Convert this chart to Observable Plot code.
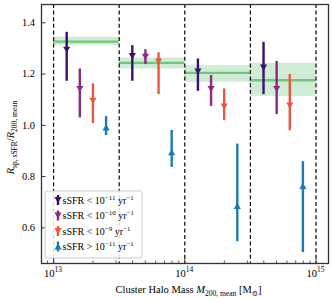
<!DOCTYPE html>
<html>
<head>
<meta charset="utf-8">
<script src="https://cdn.jsdelivr.net/npm/d3@7"></script>
<script src="https://cdn.jsdelivr.net/npm/@observablehq/plot@0.6"></script>
<style>
  body { margin: 0; background: white; }
  #chart { position: relative; width: 332px; height: 300px; }
</style>
</head>
<body>
<div id="chart"></div>
<script>
// ---- data ----
const binEdges = [13, 13.5, 14, 14.5, 15];           // log10 M200,mean bin edges
const medLine = [1.327, 1.244, 1.205, 1.176];          // green reference value per bin
const medLo   = [1.311, 1.220, 1.168, 1.113];
const medHi   = [1.344, 1.263, 1.233, 1.242];

const seriesNames  = ["sSFR < 1e-11", "sSFR < 1e-10", "sSFR < 1e-9", "sSFR > 1e-11"];
const seriesOps    = ["<", "<", "<", ">"];
const seriesExps   = ["\u221211", "\u221210", "\u22129", "\u221211"];
const seriesColors = ["#3b0f70", "#8c2981", "#e8573e", "#1b7bb0"];
const seriesUp     = [false, false, false, true];

// log10 mass positions of each point (per series, per bin)
const xLog = [
  [13.1, 13.6, 14.1, 14.6],
  [13.2, 13.7, 14.2, 14.7],
  [13.3, 13.8, 14.3, 14.8],
  [13.4, 13.9, 14.4, 14.9]
];
const yVal = [
  [1.295, 1.270, 1.210, 1.225],
  [1.142, 1.267, 1.142, 1.142],
  [1.096, 1.249, 1.073, 1.077],
  [0.992, 0.895, 0.686, 0.764]
];
const yLo = [
  [1.172, 1.172, 1.133, 1.120],
  [1.029, 1.237, 1.074, 1.042],
  [1.007, 1.120, 1.018, 0.979],
  [0.960, 0.836, 0.546, 0.504]
];
const yHi = [
  [1.363, 1.311, 1.259, 1.324],
  [1.220, 1.295, 1.194, 1.249],
  [1.162, 1.283, 1.142, 1.198],
  [1.034, 0.980, 0.927, 0.858]
];

const xMajorTicks = [13, 14, 15];
const yTicks = [0.6, 0.8, 1.0, 1.2, 1.4];
const xDomain = [10 ** 12.908, 10 ** 15.095];
const yDomain = [0.461, 1.4715];

// ---- tables ----
const bins = medLine.map((v, i) => ({
  x1: 10 ** binEdges[i], x2: 10 ** binEdges[i + 1], y: v, lo: medLo[i], hi: medHi[i]
}));
const points = [];
seriesNames.forEach((s, si) => {
  xLog[si].forEach((lx, bi) => {
    points.push({series: si, x: 10 ** lx, y: yVal[si][bi], lo: yLo[si][bi], hi: yHi[si][bi],
                 color: seriesColors[si], up: seriesUp[si]});
  });
});
const minorTicks = [];
for (let e = 12; e <= 14; e++) for (let m = 2; m <= 9; m++) {
  const v = m * 10 ** e;
  if (v > xDomain[0] && v < xDomain[1]) minorTicks.push(v);
}

// ---- symbols ----
const triDown = {draw(ctx, size) { const r = Math.sqrt(size / Math.PI);
  ctx.moveTo(-r, -0.85 * r); ctx.lineTo(r, -0.85 * r); ctx.lineTo(0, 0.85 * r); ctx.closePath(); }};
const triUp = {draw(ctx, size) { const r = Math.sqrt(size / Math.PI);
  ctx.moveTo(-r, 0.85 * r); ctx.lineTo(r, 0.85 * r); ctx.lineTo(0, -0.85 * r); ctx.closePath(); }};

const W = 332, H = 300, mL = 41, mR = 4, mT = 4, mB = 37;
const innerH = H - mT - mB, innerW = W - mL - mR;
const FONT = "'Liberation Serif', 'DejaVu Serif', serif";

const plot = Plot.plot({
  width: W, height: H,
  marginLeft: mL, marginRight: mR, marginTop: mT, marginBottom: mB,
  style: {fontFamily: FONT, background: "white", overflow: "visible"},
  x: {type: "log", domain: xDomain, axis: null},
  y: {domain: yDomain, axis: null},
  marks: [
    Plot.rect(bins, {x1: "x1", x2: "x2", y1: "lo", y2: "hi", fill: "#a9dcb3", fillOpacity: 0.55}),
    Plot.ruleY(bins, {y: "y", x1: "x1", x2: "x2", stroke: "#74c382", strokeWidth: 2.3}),
    Plot.ruleX(binEdges, {x: d => 10 ** d, stroke: "black", strokeWidth: 1.2, strokeDasharray: "4,2.6"}),
    Plot.ruleX(points, {x: "x", y1: "lo", y2: "hi", stroke: "color", strokeWidth: 2.4}),
    Plot.dot(points.filter(d => !d.up), {x: "x", y: "y", fill: "color", r: 3.6, symbol: triDown, stroke: "none"}),
    Plot.dot(points.filter(d => d.up), {x: "x", y: "y", fill: "color", r: 3.6, symbol: triUp, stroke: "none"}),
    // inward ticks
    Plot.ruleX(xMajorTicks, {x: d => 10 ** d, stroke: "#333", strokeWidth: 1, insetTop: innerH - 4.5}),
    Plot.ruleX(minorTicks, {x: d => d, stroke: "#333", strokeWidth: 0.8, insetTop: innerH - 2.5}),
    Plot.ruleY(yTicks, {y: d => d, stroke: "#333", strokeWidth: 1, insetRight: innerW - 4.5}),
    Plot.frame({stroke: "#333", strokeWidth: 1.3})
  ]
});
document.getElementById("chart").appendChild(plot);

// ---- text decorations via library scales ----
const svg = d3.select(plot);
const xs = plot.scale("x");
const ys = plot.scale("y");

// y tick labels
yTicks.forEach(v => {
  svg.append("text").attr("x", mL - 6).attr("y", ys.apply(v)).attr("dy", "0.35em")
    .attr("text-anchor", "end").attr("font-family", FONT).attr("font-size", 10.5)
    .attr("fill", "black").text(v.toFixed(1));
});

// x tick labels 10^n
xMajorTicks.forEach(e => {
  const px = xs.apply(10 ** e);
  const t = svg.append("text").attr("x", px).attr("y", H - mB + 13.5).attr("text-anchor", "middle")
    .attr("font-family", FONT).attr("font-size", 10.5).attr("fill", "black");
  t.append("tspan").text("10");
  t.append("tspan").attr("dy", -4.5).attr("font-size", 7.5).text(String(e));
});

// x label
{
  const t = svg.append("text").attr("x", mL + innerW / 2 + 4).attr("y", H - 7).attr("text-anchor", "middle")
    .attr("font-family", FONT).attr("font-size", 10.5).attr("fill", "black");
  t.append("tspan").text("Cluster Halo Mass ");
  t.append("tspan").attr("font-style", "italic").text("M");
  t.append("tspan").attr("dy", 2.5).attr("font-size", 7.5).text("200, mean");
  t.append("tspan").attr("dy", -2.5).text(" [M");
  t.append("tspan").attr("dy", 2.5).attr("font-size", 7.5).text("\u2299");
  t.append("tspan").attr("dy", -2.5).text("]");
}

// y label
{
  const cx = 14, cy = mT + innerH / 2 + 4;
  const t = svg.append("text").attr("transform", `translate(${cx},${cy}) rotate(-90)`).attr("text-anchor", "middle")
    .attr("font-family", FONT).attr("font-size", 10.5).attr("fill", "black");
  t.append("tspan").attr("font-style", "italic").text("R");
  t.append("tspan").attr("dy", 2.5).attr("font-size", 7.5).text("sp, sSFR");
  t.append("tspan").attr("dy", -2.5).text("/");
  t.append("tspan").attr("font-style", "italic").text("R");
  t.append("tspan").attr("dy", 2.5).attr("font-size", 7.5).text("200, mean");
}

// legend
{
  const lx = 45, ly = 191, lw = 97, lh = 67;
  const g = svg.append("g");
  g.append("rect").attr("x", lx).attr("y", ly).attr("width", lw).attr("height", lh)
    .attr("rx", 2).attr("fill", "white").attr("fill-opacity", 0.85).attr("stroke", "#cccccc").attr("stroke-width", 1);
  const rows = [200, 215.5, 231, 246.5];
  seriesNames.forEach((s, i) => {
    const y = rows[i], mx = 58;
    g.append("line").attr("x1", mx).attr("x2", mx).attr("y1", y - 5).attr("y2", y + 5)
      .attr("stroke", seriesColors[i]).attr("stroke-width", 2.4);
    const r = 3.6, k = 0.85;
    const pts = seriesUp[i]
      ? [[mx - r, y + k * r], [mx + r, y + k * r], [mx, y - k * r]]
      : [[mx - r, y - k * r], [mx + r, y - k * r], [mx, y + k * r]];
    g.append("path").attr("d", "M" + pts.map(p => p.join(",")).join("L") + "Z").attr("fill", seriesColors[i]);
    const t = g.append("text").attr("x", 62.5).attr("y", y + 3.5).attr("text-anchor", "start")
      .attr("font-family", FONT).attr("font-size", 10).attr("fill", "black");
    t.append("tspan").text(`sSFR ${seriesOps[i]} 10`);
    t.append("tspan").attr("dy", -4).attr("font-size", 7).text(seriesExps[i]);
    t.append("tspan").attr("dy", 4).text(" yr");
    t.append("tspan").attr("dy", -4).attr("font-size", 7).text("\u22121");
  });
}
</script>
</body>
</html>
